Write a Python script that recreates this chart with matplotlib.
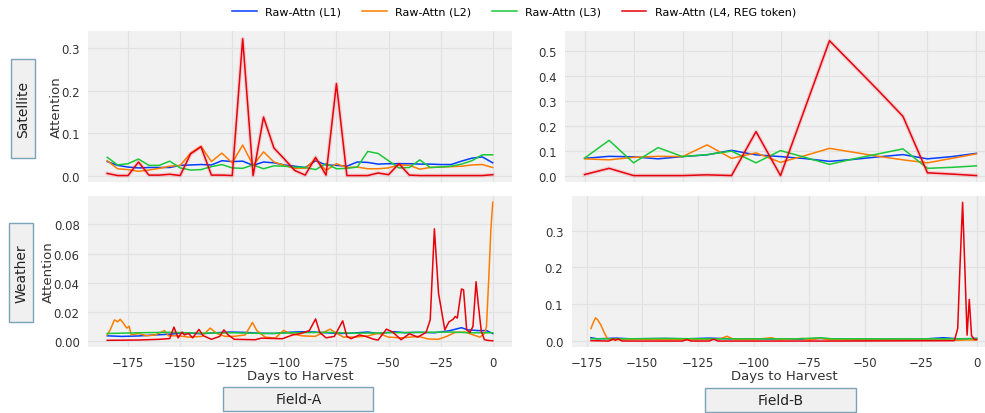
import matplotlib
matplotlib.use("Agg")
import matplotlib.pyplot as plt
from matplotlib.patches import Rectangle
from matplotlib.ticker import MultipleLocator

# colours (seaborn "bright")
c_l1 = '#023eff'
c_l2 = '#ff7c00'
c_l3 = '#1ac938'
c_l4 = '#e8000b'

labels = ['Raw-Attn (L1)', 'Raw-Attn (L2)', 'Raw-Attn (L3)', 'Raw-Attn (L4, REG token)']

# ---- Satellite, Field-A (every 5 days) ----
sat_a_days = list(range(-185, 1, 5))
sat_a_l1 = [0.033, 0.024, 0.020, 0.018, 0.019, 0.019, 0.019, 0.024, 0.025, 0.026,
            0.025, 0.035, 0.033, 0.034, 0.024, 0.032, 0.030, 0.025, 0.022, 0.019,
            0.035, 0.025, 0.024, 0.022, 0.032, 0.031, 0.027, 0.028, 0.028, 0.028,
            0.027, 0.027, 0.026, 0.026, 0.034, 0.041, 0.044, 0.030]
sat_a_l2 = [0.035, 0.016, 0.014, 0.010, 0.013, 0.017, 0.022, 0.024, 0.053, 0.069,
            0.033, 0.053, 0.030, 0.072, 0.024, 0.056, 0.032, 0.024, 0.017, 0.017,
            0.039, 0.012, 0.028, 0.019, 0.020, 0.016, 0.016, 0.018, 0.025, 0.024,
            0.015, 0.019, 0.020, 0.021, 0.022, 0.025, 0.026, 0.019]
sat_a_l3 = [0.043, 0.025, 0.028, 0.039, 0.024, 0.024, 0.034, 0.018, 0.013, 0.014,
            0.021, 0.026, 0.018, 0.017, 0.025, 0.016, 0.023, 0.022, 0.020, 0.019,
            0.014, 0.028, 0.016, 0.017, 0.020, 0.057, 0.052, 0.035, 0.018, 0.019,
            0.037, 0.019, 0.020, 0.022, 0.027, 0.035, 0.049, 0.049]
sat_a_l4 = [0.005, 0.000, 0.000, 0.032, 0.001, 0.001, 0.003, 0.000, 0.051, 0.068,
            0.001, 0.001, 0.000, 0.323, 0.000, 0.138, 0.065, 0.039, 0.012, 0.001,
            0.043, 0.001, 0.217, 0.000, 0.000, 0.000, 0.006, 0.002, 0.028, 0.001,
            0.000, 0.000, 0.000, 0.000, 0.000, 0.000, 0.000, 0.002]

# ---- Satellite, Field-B (every 12.5 days) ----
sat_b_days = [-200, -187.5, -175, -162.5, -150, -137.5, -125, -112.5, -100,
              -87.5, -75, -62.5, -50, -37.5, -25, -12.5, 0]
sat_b_l1 = [0.069, 0.077, 0.075, 0.067, 0.076, 0.083, 0.101, 0.083, 0.076,
            0.068, 0.057, 0.065, 0.075, 0.084, 0.067, 0.076, 0.089]
sat_b_l2 = [0.067, 0.063, 0.073, 0.077, 0.076, 0.123, 0.069, 0.091, 0.053,
            0.080, 0.109, 0.093, 0.077, 0.063, 0.051, 0.069, 0.087]
sat_b_l3 = [0.070, 0.141, 0.051, 0.112, 0.076, 0.084, 0.098, 0.051, 0.100,
            0.073, 0.045, 0.067, 0.087, 0.107, 0.029, 0.033, 0.039]
sat_b_l4 = [0.004, 0.029, 0.000, 0.000, 0.000, 0.003, 0.000, 0.176, 0.000,
            0.270, 0.540, 0.440, 0.340, 0.237, 0.011, 0.006, 0.000]

# ---- Weather, Field-A ----
wa_l1_days = [-185, -178, -170, -162, -155, -148, -140, -133, -126, -120, -112, -105,
              -98, -92, -86, -80, -74, -68, -60, -55, -47, -42, -36, -28, -21, -15,
              -12, -7, -3, 0]
wa_l1 = [0.0034, 0.0030, 0.0033, 0.0040, 0.0045, 0.0055, 0.0048, 0.0055, 0.0060, 0.0058,
         0.0052, 0.0050, 0.0058, 0.0062, 0.0060, 0.0055, 0.0050, 0.0052, 0.0060, 0.0050,
         0.0062, 0.0055, 0.0058, 0.0055, 0.0068, 0.0090, 0.0075, 0.0070, 0.0070, 0.0050]
wa_l2_days = [-185, -183.6, -181.5, -180, -178.8, -177.2, -175.6, -174.5, -173.5, -170,
              -166, -162, -157.5, -155.6, -150.8, -146, -139.6, -135.6, -132.4, -128.4,
              -124.4, -118.8, -115.3, -113.2, -109.2, -104.4, -100.4, -97.2, -91.6, -85.2,
              -78, -75.6, -71.6, -66, -59.7, -54.9, -50.1, -43.7, -35.7, -30.9,
              -26.1, -22.1, -18.1, -13.3, -9.3, -6.1, -3.8, -3.0, -1.9, -0.9, 0]
wa_l2 = [0.0040, 0.0075, 0.0144, 0.0130, 0.0148, 0.0120, 0.0087, 0.0100, 0.0040, 0.0050,
         0.0034, 0.0040, 0.0070, 0.0034, 0.0034, 0.0025, 0.0030, 0.0087, 0.0050, 0.0030,
         0.0030, 0.0040, 0.0126, 0.0070, 0.0025, 0.0018, 0.0071, 0.0050, 0.0034, 0.0030,
         0.0080, 0.0057, 0.0025, 0.0025, 0.0034, 0.0052, 0.0025, 0.0020, 0.0030, 0.0012,
         0.0010, 0.0030, 0.0057, 0.0060, 0.0040, 0.0025, 0.0052, 0.0098, 0.0430, 0.0760, 0.0953]
wa_l3_days = [-185, -170, -155, -140, -125, -110, -95, -80, -65, -50, -35, -20, -10, 0]
wa_l3 = [0.0050, 0.0055, 0.0058, 0.0052, 0.0055, 0.0050, 0.0055, 0.0058, 0.0052,
         0.0055, 0.0058, 0.0060, 0.0055, 0.0055]
wa_l4_days = [-185, -170, -160, -155, -153, -151, -149, -148, -146, -144, -141, -139,
              -135, -131, -129, -127, -124, -114, -111, -101, -96, -92, -88, -85,
              -83, -80, -76, -72, -70, -68, -64, -61, -57, -55, -51, -48, -44, -40,
              -36, -32, -30, -28, -26, -23, -21, -19, -18, -17, -15, -14, -12.5,
              -11, -9.5, -8, -7, -5.5, -4, -2, 0]
wa_l4 = [0.0003, 0.0005, 0.0010, 0.0015, 0.0094, 0.0020, 0.0060, 0.0040, 0.0050, 0.0020,
         0.0078, 0.0035, 0.0010, 0.0030, 0.0075, 0.0040, 0.0010, 0.0007, 0.0018, 0.0014,
         0.0040, 0.0050, 0.0070, 0.0150, 0.0057, 0.0020, 0.0030, 0.0137, 0.0030, 0.0014,
         0.0040, 0.0030, 0.0010, 0.0005, 0.0080, 0.0060, 0.0007, 0.0048, 0.0025, 0.0057,
         0.0144, 0.0770, 0.0326, 0.0075, 0.0130, 0.0148, 0.0167, 0.0156, 0.0356, 0.0350,
         0.0075, 0.0057, 0.0098, 0.0406, 0.0260, 0.0068, 0.0007, 0.0002, 0.0000]

# ---- Weather, Field-B ----
wb_l1_days = [-173, -170, -162, -155, -140, -130, -120, -110, -95, -80, -70, -55,
              -40, -25, -15, -8, 0]
wb_l1 = [0.009, 0.006, 0.008, 0.006, 0.007, 0.006, 0.008, 0.006, 0.006, 0.005,
         0.007, 0.004, 0.005, 0.005, 0.009, 0.006, 0.007]
wb_l2_days = [-173, -172, -171, -170, -168.5, -167, -165.5, -164, -160, -150, -140,
              -125, -115, -112, -109, -100, -92, -89, -78, -75, -70, -67, -50, -30,
              -15, -8, -4, 0]
wb_l2 = [0.034, 0.050, 0.063, 0.058, 0.043, 0.022, 0.006, 0.003, 0.004, 0.005, 0.004,
         0.004, 0.006, 0.013, 0.005, 0.004, 0.009, 0.004, 0.007, 0.003, 0.008, 0.004,
         0.003, 0.003, 0.003, 0.002, 0.003, 0.003]
wb_l3_days = [-173, -160, -140, -120, -100, -80, -70, -65, -40, -20, -5, 0]
wb_l3 = [0.006, 0.006, 0.007, 0.006, 0.006, 0.006, 0.009, 0.006, 0.006, 0.006,
         0.006, 0.007]
wb_l4_days = [-173, -165, -163, -162, -161, -159, -132, -130, -128, -120, -118, -116,
              -60, -10, -8.5, -7.5, -6.3, -5.3, -4.3, -3.3, -2.3, -1, 0]
wb_l4 = [0.001, 0.000, 0.006, 0.002, 0.006, 0.000, 0.000, 0.004, 0.000, 0.000, 0.005,
         0.000, 0.000, 0.001, 0.034, 0.200, 0.377, 0.200, 0.016, 0.113, 0.015, 0.004,
         0.004]

plt.rcParams['font.family'] = 'DejaVu Sans'

fig = plt.figure(figsize=(9.85, 4.14), dpi=100)
ax_sa = fig.add_axes([0.0893, 0.5572, 0.4305, 0.3662])
ax_sb = fig.add_axes([0.5736, 0.5572, 0.4376, 0.3662])
ax_wa = fig.add_axes([0.0893, 0.1587, 0.4305, 0.3662])
ax_wb = fig.add_axes([0.5804, 0.1587, 0.4307, 0.3662])

def style(ax):
	ax.set_facecolor('#f1f1f1')
	for s in ax.spines.values():
		s.set_visible(False)
	ax.grid(True, color='#e2e2e2', lw=0.9)
	ax.set_axisbelow(True)
	ax.tick_params(length=0, pad=6, labelsize=8.5, colors='#333333')
	ax.xaxis.set_major_locator(MultipleLocator(25))

lw = 1.1

# satellite rows (red has a faint band around it)
for ax, d, s1, s2, s3, s4 in [(ax_sa, sat_a_days, sat_a_l1, sat_a_l2, sat_a_l3, sat_a_l4),
                              (ax_sb, sat_b_days, sat_b_l1, sat_b_l2, sat_b_l3, sat_b_l4)]:
	style(ax)
	ax.plot(d, s1, color=c_l1, lw=lw, label=labels[0])
	ax.plot(d, s2, color=c_l2, lw=lw, label=labels[1])
	ax.plot(d, s3, color=c_l3, lw=lw, label=labels[2])
	ax.plot(d, s4, color=c_l4, lw=3, alpha=0.13)
	ax.plot(d, s4, color=c_l4, lw=lw, label=labels[3])
	ax.tick_params(labelbottom=False)

# weather rows
for ax, series in [(ax_wa, [(wa_l1_days, wa_l1), (wa_l2_days, wa_l2), (wa_l3_days, wa_l3), (wa_l4_days, wa_l4)]),
                   (ax_wb, [(wb_l1_days, wb_l1), (wb_l2_days, wb_l2), (wb_l3_days, wb_l3), (wb_l4_days, wb_l4)])]:
	style(ax)
	for (d, v), c in zip(series, [c_l1, c_l2, c_l3, c_l4]):
		ax.plot(d, v, color=c, lw=lw)
	ax.set_xlabel('Days to Harvest', fontsize=9.5, color='#333333', labelpad=0)

ax_sa.set_xlim(-194.25, 9.25)
ax_wa.set_xlim(-194.25, 9.25)
ax_sb.set_xlim(-210, 10)
ax_wb.set_xlim(-181.65, 8.65)

ax_sa.set_ylim(-0.016, 0.342)
ax_sb.set_ylim(-0.027, 0.58)
ax_wa.set_ylim(-0.0045, 0.0998)
ax_wb.set_ylim(-0.017, 0.395)
ax_sa.yaxis.set_major_locator(MultipleLocator(0.1))
ax_sb.yaxis.set_major_locator(MultipleLocator(0.1))
ax_wa.yaxis.set_major_locator(MultipleLocator(0.02))
ax_wb.yaxis.set_major_locator(MultipleLocator(0.1))

ax_sa.set_ylabel('Attention', fontsize=9.5, color='#333333', labelpad=-1)
ax_wa.set_ylabel('Attention', fontsize=9.5, color='#333333', labelpad=-1)

# row / column label boxes
box_face = '#f0f0f0'
box_edge = '#7da3b8'
row_boxes = [('Satellite', [0.0112, 0.6167, 0.0241, 0.2384]),
             ('Weather', [0.0091, 0.2191, 0.0247, 0.2391])]
for txt, (x0, y0, w, h) in row_boxes:
	fig.patches.append(Rectangle((x0, y0), w, h, transform=fig.transFigure,
		facecolor=box_face, edgecolor=box_edge, lw=1.0))
	fig.text(x0 + w / 2, y0 + h / 2, txt, rotation=90, ha='center', va='center',
		fontsize=10, color='#222222')

col_boxes = [('Field-A', [0.2267, 0.0056, 0.1523, 0.0565]),
             ('Field-B', [0.7157, 0.0031, 0.1530, 0.0565])]
for txt, (x0, y0, w, h) in col_boxes:
	fig.patches.append(Rectangle((x0, y0), w, h, transform=fig.transFigure,
		facecolor=box_face, edgecolor=box_edge, lw=1.0))
	fig.text(x0 + w / 2, y0 + h / 2, txt, ha='center', va='center',
		fontsize=10, color='#222222')

h, l = ax_sa.get_legend_handles_labels()
fig.legend(h, l, loc='center', bbox_to_anchor=(0.522, 0.969), ncol=4, frameon=False,
	fontsize=8, handlelength=2.2, handletextpad=0.75, columnspacing=1.9)

fig.savefig('out.png', dpi=100)
